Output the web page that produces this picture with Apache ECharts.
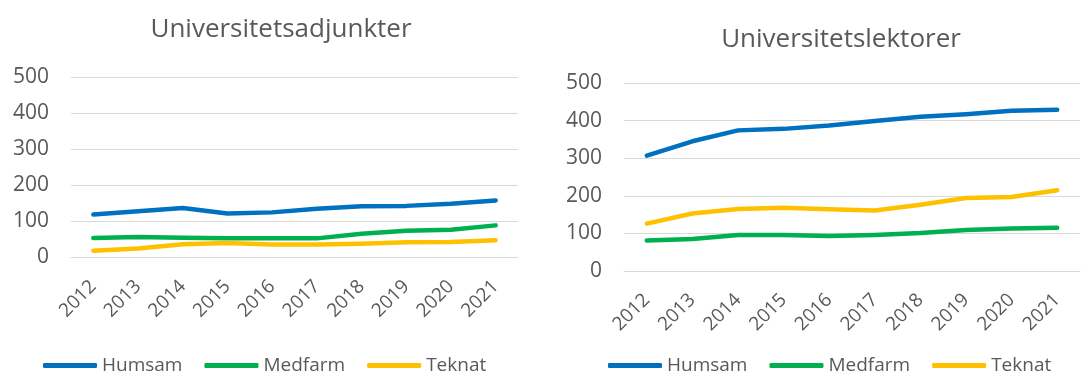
<!DOCTYPE html>
<html>
<head>
<meta charset="utf-8">
<script src="https://cdn.jsdelivr.net/npm/echarts@6/dist/echarts.min.js"></script>
<style>
  html, body { margin: 0; padding: 0; background: #fff; }
  #chart { width: 1085px; height: 376px; }
</style>
</head>
<body>
<div id="chart"></div>
<script>
// Staff counts per faculty area, 2012–2021
const years = ['2012','2013','2014','2015','2016','2017','2018','2019','2020','2021'];
const seriesNames = ['Humsam', 'Medfarm', 'Teknat'];

// Universitetsadjunkter
const adjHumsam  = [119, 128, 137, 122, 125, 135, 142, 143, 149, 158];
const adjMedfarm = [54, 57, 55, 53, 53, 53, 66, 74, 77, 89];
const adjTeknat  = [19, 25, 37, 40, 36, 36, 38, 42, 43, 48];

// Universitetslektorer
const lekHumsam  = [307, 345, 374, 378, 387, 399, 410, 417, 426, 429];
const lekMedfarm = [81, 85, 96, 96, 93, 96, 101, 109, 113, 115];
const lekTeknat  = [126, 153, 165, 168, 164, 161, 176, 194, 197, 215];

const colors = ['#0070C0', '#00B050', '#FFC000'];
const FONT = 'Open Sans';
const TEXT = '#595959';

function lineSeries(name, data, idx, color) {
  return {
    name: name, type: 'line', data: data,
    xAxisIndex: idx, yAxisIndex: idx,
    symbol: 'none', smooth: false,
    lineStyle: { width: 4.5, color: color, cap: 'round', join: 'round' },
    itemStyle: { color: color }
  };
}

function xAxis(idx) {
  return {
    type: 'category', gridIndex: idx, data: years, boundaryGap: true,
    axisLine: { show: true, lineStyle: { color: '#d9d9d9', width: 1 } },
    axisTick: { show: false },
    axisLabel: { rotate: 45, margin: 26, color: TEXT, fontFamily: FONT, fontSize: 19 }
  };
}

function yAxis(idx) {
  return {
    type: 'value', gridIndex: idx, min: 0, max: 500, interval: 100,
    axisLine: { show: false }, axisTick: { show: false },
    splitLine: { lineStyle: { color: '#d9d9d9', width: 1 } },
    axisLabel: { margin: 22, color: TEXT, fontFamily: FONT, fontSize: 21 }
  };
}

function legend(left) {
  return {
    left: left, top: 351,
    itemWidth: 54, itemHeight: 5, itemGap: 22,
    icon: 'roundRect',
    textStyle: { color: TEXT, fontFamily: FONT, fontSize: 19 },
    data: seriesNames
  };
}

const chart = echarts.init(document.getElementById('chart'), null, { renderer: 'canvas' });
chart.setOption({
  animation: false,
  backgroundColor: '#ffffff',
  color: colors,
  title: [
    { text: 'Universitetsadjunkter', left: 276, top: 12, textAlign: 'center',
      textStyle: { color: TEXT, fontFamily: FONT, fontSize: 26, fontWeight: 'normal' } },
    { text: 'Universitetslektorer', left: 836, top: 22, textAlign: 'center',
      textStyle: { color: TEXT, fontFamily: FONT, fontSize: 26, fontWeight: 'normal' } }
  ],
  legend: [legend(38), legend(603)],
  grid: [
    { left: 71, width: 447, top: 77, height: 180.5 },
    { left: 624, width: 456, top: 83, height: 188 }
  ],
  xAxis: [xAxis(0), xAxis(1)],
  yAxis: [yAxis(0), yAxis(1)],
  series: [
    lineSeries('Humsam', adjHumsam, 0, colors[0]),
    lineSeries('Medfarm', adjMedfarm, 0, colors[1]),
    lineSeries('Teknat', adjTeknat, 0, colors[2]),
    lineSeries('Humsam', lekHumsam, 1, colors[0]),
    lineSeries('Medfarm', lekMedfarm, 1, colors[1]),
    lineSeries('Teknat', lekTeknat, 1, colors[2])
  ]
});
</script>
</body>
</html>
